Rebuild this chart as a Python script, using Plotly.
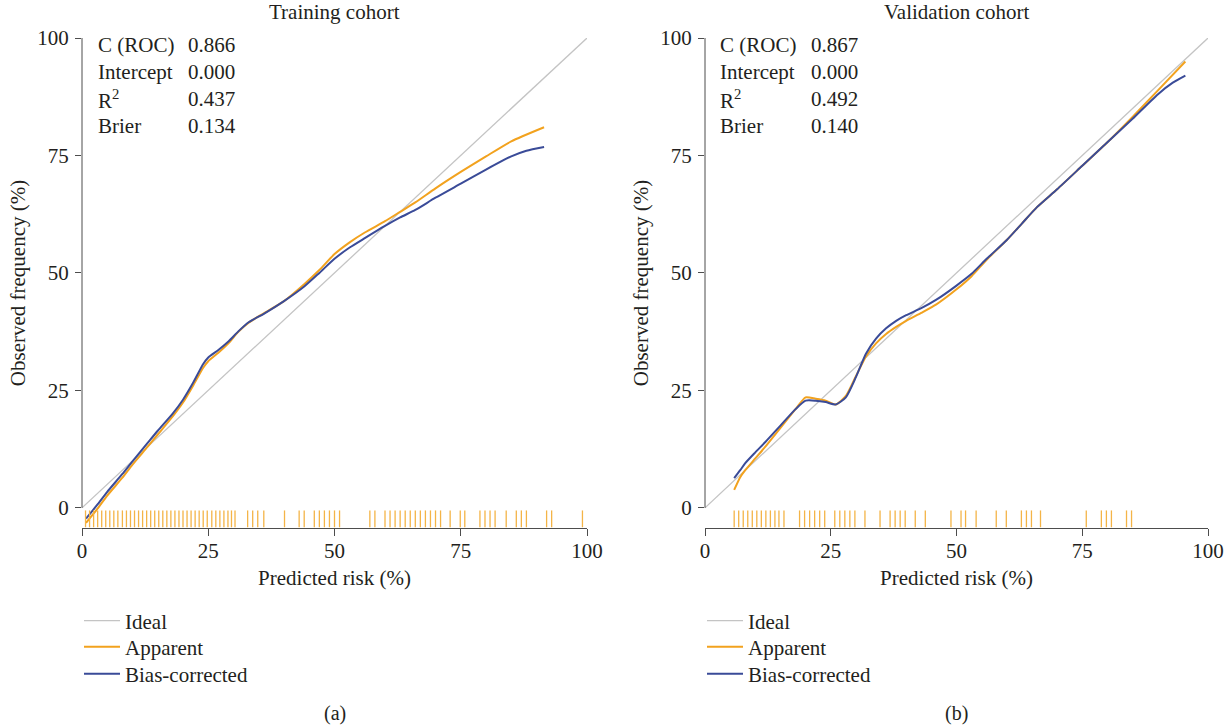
import plotly.graph_objects as go

# ---------------- data ----------------
ideal_x = [0, 100]
ideal_y = [0, 100]

train_app_x = [0.8, 3, 5, 8, 10, 13, 15, 18, 20, 22, 24, 25, 27, 29, 31, 33, 36, 40, 44, 47, 50, 53, 56, 60, 63, 66, 70, 75, 80, 85, 91.5]
train_app_y = [-3.2, -0.3, 2.6, 6.4, 9.2, 13.0, 15.6, 19.5, 22.4, 26.0, 29.8, 31.2, 33.0, 35.0, 37.5, 39.4, 41.4, 44.0, 47.6, 50.6, 54.0, 56.5, 58.6, 61.0, 63.0, 65.0, 68.0, 71.5, 74.8, 78.0, 81.0]
train_bc_x = [0.8, 3, 5, 8, 10, 13, 15, 18, 20, 22, 24, 25, 27, 29, 31, 33, 36, 40, 44, 47, 50, 53, 56, 60, 63, 66, 70, 75, 80, 85, 88, 91.5]
train_bc_y = [-2.3, 0.6, 3.4, 7.2, 9.9, 13.8, 16.4, 20.1, 23.0, 26.6, 30.6, 32.0, 33.6, 35.4, 37.6, 39.5, 41.3, 44.0, 47.1, 50.0, 53.0, 55.4, 57.4, 60.0, 61.8, 63.4, 66.0, 69.0, 72.0, 74.8, 76.0, 76.8]
train_rug = [0.7, 1.5, 2.3, 3.1, 3.9, 4.7, 5.5, 6.3, 7.1, 8.0, 8.8, 9.6, 10.4, 11.2, 12.0, 12.8,
             13.6, 14.4, 15.2, 16.0, 16.8, 17.6, 18.4, 19.2, 20.0, 20.8, 21.6, 22.4, 23.2, 24.0,
             24.8, 25.7, 26.5, 27.3, 28.1, 28.9, 29.6, 30.3, 32.8, 33.8, 34.8, 36.0, 40.1, 43.0,
             44.0, 46.0, 47.0, 48.0, 49.0, 50.0, 51.0, 57.0, 58.0, 60.0, 61.0, 62.0, 63.0, 64.0,
             65.0, 66.0, 67.0, 68.0, 69.0, 70.0, 71.0, 72.9, 74.9, 75.8, 78.8, 79.8, 80.8, 81.8,
             84.0, 86.0, 87.0, 88.0, 92.0, 93.0, 99.1]

valid_app_x = [5.8, 7, 8, 10, 12, 15, 18, 20, 22, 24, 26, 28, 30, 32, 34, 36, 38, 40, 43, 46, 50, 53, 56, 60, 63, 66, 70, 75, 80, 85, 90, 95.5]
valid_app_y = [3.8, 6.5, 8.0, 10.5, 13.0, 17.0, 21.0, 23.5, 23.2, 22.8, 22.0, 23.8, 28.0, 32.2, 35.0, 37.0, 38.5, 39.8, 41.5, 43.3, 46.5, 49.3, 52.8, 57.0, 60.5, 64.0, 67.8, 72.8, 77.8, 83.2, 88.8, 95.0]
valid_bc_x = [5.8, 7, 8, 10, 12, 15, 18, 20, 22, 24, 26, 28, 30, 32, 34, 36, 38, 40, 43, 46, 50, 53, 56, 60, 63, 66, 70, 75, 80, 85, 90, 93, 95.5]
valid_bc_y = [6.3, 8.0, 9.5, 11.8, 14.0, 17.5, 21.0, 22.8, 22.8, 22.5, 22.0, 23.5, 27.8, 32.8, 36.0, 38.2, 39.8, 41.0, 42.5, 44.3, 47.3, 49.8, 53.0, 57.0, 60.5, 64.0, 67.8, 72.8, 77.8, 82.8, 88.0, 90.5, 92.0]
valid_rug = [5.8, 6.7, 7.6, 8.5, 9.4, 10.3, 11.2, 12.1, 13.0, 13.9, 14.7, 15.7, 18.8, 19.8,
             20.8, 21.8, 22.8, 23.8, 25.8, 26.8, 27.8, 28.8, 29.8, 31.8, 34.8, 36.8, 37.8, 38.8,
             39.8, 41.8, 43.8, 48.9, 50.9, 51.8, 53.9, 57.9, 59.9, 62.9, 63.9, 64.9, 66.7, 75.8,
             78.8, 79.8, 80.8, 83.8, 84.8]

tick_vals = [0, 25, 50, 75, 100]
tick_text = ["0", "25", "50", "75", "100"]

stat_labels = ["C (ROC)", "Intercept", "R<sup>2</sup>", "Brier"]
train_stats = ["0.866", "0.000", "0.437", "0.134"]
valid_stats = ["0.867", "0.000", "0.492", "0.140"]

panel_titles = ["Training cohort", "Validation cohort"]
panel_tags = ["(a)", "(b)"]
legend_names = ["Ideal", "Apparent", "Bias-corrected"]

# ---------------- style ----------------
W, H = 1230, 727
FONT = "Liberation Serif"
FS = 21
TXT = "#231f20"
AX = "#4d4d4d"
C_IDEAL = "#c4c4c4"
C_APP = "#f2a21e"
C_BC = "#3a4b98"
C_RUG = "#f4b447"

xa_dom = [82 / W, 587 / W]
xb_dom = [705 / W, 1208 / W]
y_dom = [1 - 528 / H, 1 - 38 / H]
Y_RANGE = [-4.3, 100]
RUG_Y = -2.35
LEG_Y = [621, 647, 674]

fig = go.Figure()

panels = [
    ("x", "y", ["legend", "legend2", "legend3"], 79, train_app_x, train_app_y, train_bc_x, train_bc_y, train_rug),
    ("x2", "y2", ["legend4", "legend5", "legend6"], 702, valid_app_x, valid_app_y, valid_bc_x, valid_bc_y, valid_rug),
]
legend_layout = {}
for i, (xr, yr, lgs, lgx, ax_, ay_, bx_, by_, rug) in enumerate(panels):
    fig.add_trace(go.Scatter(x=ideal_x, y=ideal_y, mode="lines", name=legend_names[0],
                             line=dict(color=C_IDEAL, width=1.3), xaxis=xr, yaxis=yr,
                             legend=lgs[0]))
    fig.add_trace(go.Scatter(x=ax_, y=ay_, mode="lines", name=legend_names[1],
                             line=dict(color=C_APP, width=2, shape="spline", smoothing=0.6),
                             xaxis=xr, yaxis=yr, legend=lgs[1]))
    fig.add_trace(go.Scatter(x=bx_, y=by_, mode="lines", name=legend_names[2],
                             line=dict(color=C_BC, width=2, shape="spline", smoothing=0.6),
                             xaxis=xr, yaxis=yr, legend=lgs[2]))
    fig.add_trace(go.Scatter(x=rug, y=[RUG_Y] * len(rug), mode="markers", showlegend=False,
                             marker=dict(symbol="line-ns", size=12, color=C_RUG,
                                         line=dict(color=C_RUG, width=1.3)),
                             xaxis=xr, yaxis=yr, hoverinfo="x"))
    for lg, ly in zip(lgs, LEG_Y):
        legend_layout[lg] = dict(x=lgx / W, y=1 - ly / H, xanchor="left", yanchor="middle",
                                 font=dict(family=FONT, size=FS, color=TXT), itemwidth=36,
                                 bgcolor="rgba(0,0,0,0)", borderwidth=0)

axis_common = dict(showgrid=False, zeroline=False, ticks="outside", tickcolor=AX,
                   tickwidth=1, tickvals=tick_vals, ticktext=tick_text, automargin=False,
                   tickfont=dict(family=FONT, size=FS, color=TXT))
xcommon = dict(axis_common, range=[0, 100], showline=True, linecolor=AX, linewidth=1, ticklen=7,
               ticklabelstandoff=-3,
               title=dict(text="Predicted risk (%)", font=dict(family=FONT, size=FS, color=TXT),
                          standoff=8))
ycommon = dict(axis_common, range=Y_RANGE, showline=False, ticklen=6, ticklabelstandoff=2,
               title=dict(text="Observed frequency (%)", font=dict(family=FONT, size=FS, color=TXT),
                          standoff=5))

fig.update_layout(
    template="none",
    width=W, height=H, margin=dict(l=0, r=0, t=0, b=0, autoexpand=False),
    paper_bgcolor="white", plot_bgcolor="white",
    font=dict(family=FONT, size=FS, color=TXT),
    xaxis=dict(xcommon, domain=xa_dom, anchor="y"),
    yaxis=dict(ycommon, domain=y_dom, anchor="x"),
    xaxis2=dict(xcommon, domain=xb_dom, anchor="y2"),
    yaxis2=dict(ycommon, domain=y_dom, anchor="x2"),
    showlegend=True,
    **legend_layout,
)

# y-axis lines running only from 0 to 100
def ypaper(v):
    return y_dom[0] + (v - Y_RANGE[0]) / (Y_RANGE[1] - Y_RANGE[0]) * (y_dom[1] - y_dom[0])

for dom in (xa_dom, xb_dom):
    fig.add_shape(type="line", xref="paper", yref="paper", x0=dom[0], x1=dom[0],
                  y0=ypaper(0), y1=ypaper(100), line=dict(color=AX, width=1))

# titles, stats, tags
stat_y = [45, 72, 99, 126]
for dom, title, tag, stats, lx, vx in [
    (xa_dom, panel_titles[0], panel_tags[0], train_stats, 96, 186),
    (xb_dom, panel_titles[1], panel_tags[1], valid_stats, 718, 809),
]:
    cx = (dom[0] + dom[1]) / 2
    fig.add_annotation(text=title, x=cx, y=1 - 12 / H, xref="paper", yref="paper",
                       showarrow=False, xanchor="center", yanchor="middle",
                       font=dict(family=FONT, size=FS, color=TXT))
    fig.add_annotation(text=tag, x=cx, y=1 - 713 / H, xref="paper", yref="paper",
                       showarrow=False, xanchor="center", yanchor="middle",
                       font=dict(family=FONT, size=FS - 1, color=TXT))
    for lab, val, yy in zip(stat_labels, stats, stat_y):
        fig.add_annotation(text=lab, x=lx / W, y=1 - yy / H, xref="paper", yref="paper",
                           showarrow=False, xanchor="left", yanchor="middle",
                           font=dict(family=FONT, size=FS, color=TXT))
        fig.add_annotation(text=val, x=vx / W, y=1 - yy / H, xref="paper", yref="paper",
                           showarrow=False, xanchor="left", yanchor="middle",
                           font=dict(family=FONT, size=FS, color=TXT))

# the page's default body margin would offset the figure; remove it
fig.write_html("out.html", config={"displayModeBar": False},
               post_script="document.body.style.margin='0';document.body.style.overflow='hidden';")
